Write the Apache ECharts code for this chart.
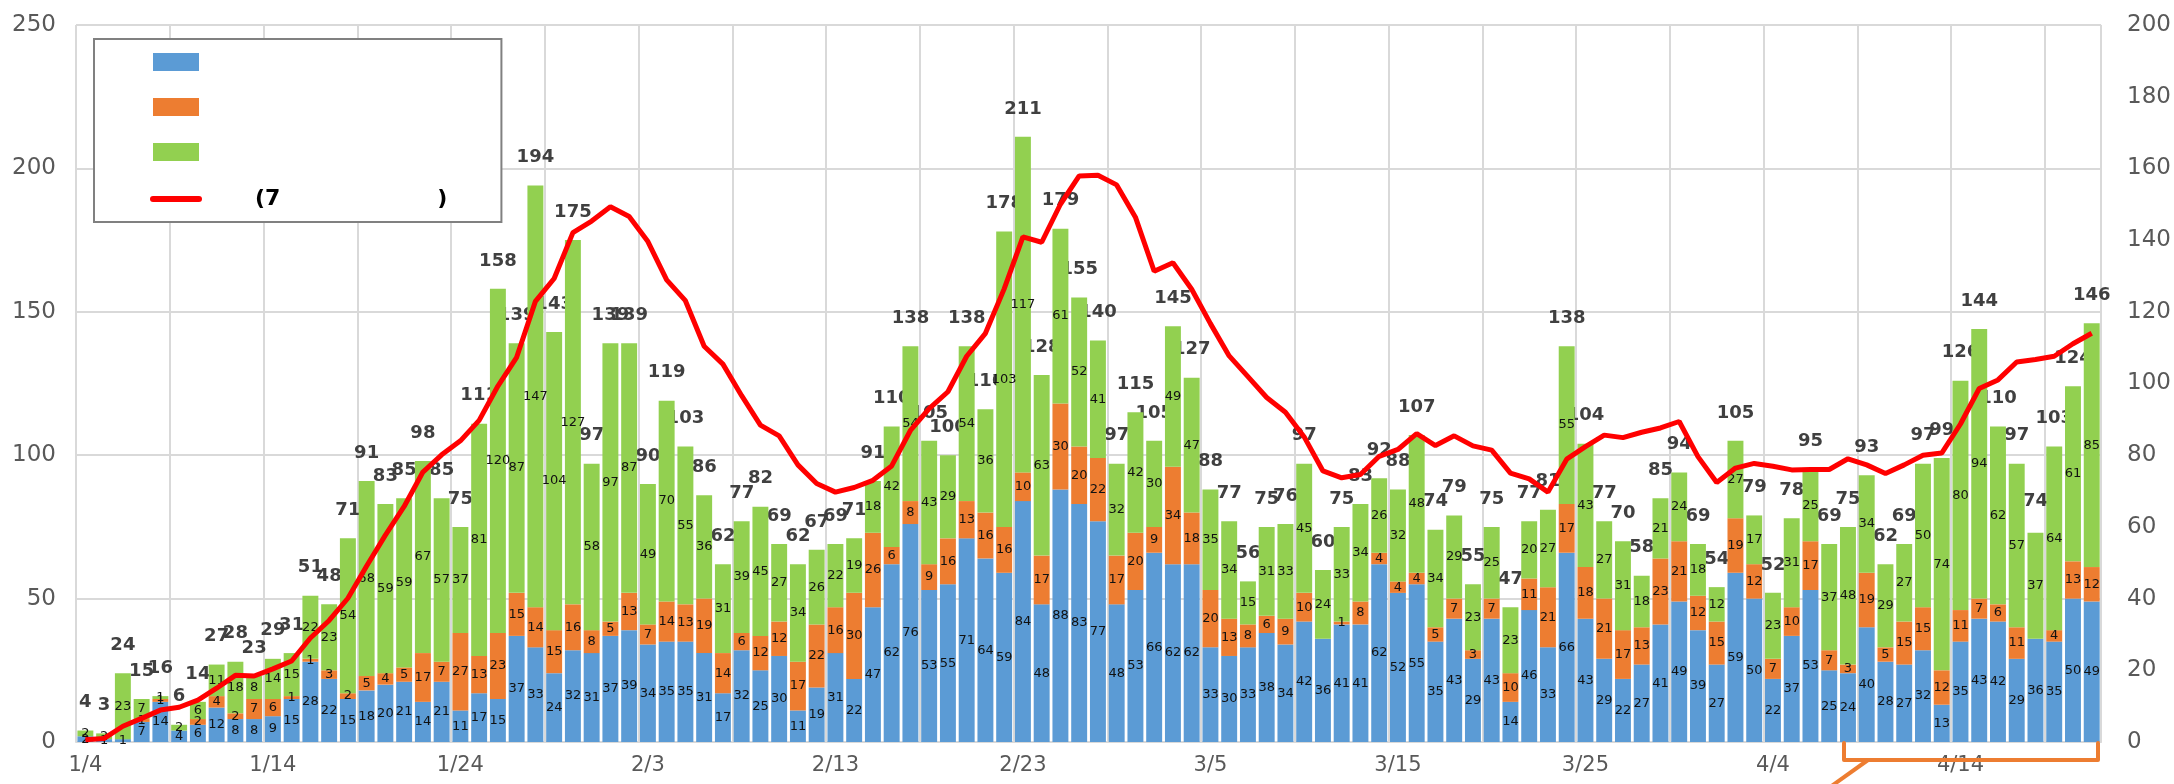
<!DOCTYPE html>
<html>
<head>
<meta charset="utf-8">
<script src="https://cdn.jsdelivr.net/npm/echarts@6/dist/echarts.min.js"></script>
<style>
  html, body { margin: 0; padding: 0; background: #fff; }
  #chart { width: 2174px; height: 784px; }
</style>
</head>
<body>
<div id="chart"></div>
<script>
// days 1/4 .. 4/21
const dates = [
  '1/4','1/5','1/6','1/7','1/8','1/9','1/10','1/11','1/12','1/13',
  '1/14','1/15','1/16','1/17','1/18','1/19','1/20','1/21','1/22','1/23',
  '1/24','1/25','1/26','1/27','1/28','1/29','1/30','1/31','2/1','2/2',
  '2/3','2/4','2/5','2/6','2/7','2/8','2/9','2/10','2/11','2/12',
  '2/13','2/14','2/15','2/16','2/17','2/18','2/19','2/20','2/21','2/22',
  '2/23','2/24','2/25','2/26','2/27','2/28','3/1','3/2','3/3','3/4',
  '3/5','3/6','3/7','3/8','3/9','3/10','3/11','3/12','3/13','3/14',
  '3/15','3/16','3/17','3/18','3/19','3/20','3/21','3/22','3/23','3/24',
  '3/25','3/26','3/27','3/28','3/29','3/30','3/31','4/1','4/2','4/3',
  '4/4','4/5','4/6','4/7','4/8','4/9','4/10','4/11','4/12','4/13',
  '4/14','4/15','4/16','4/17','4/18','4/19','4/20','4/21'
];

const blue = [
  2, 1, 1, 7, 14, 4, 6, 12, 8, 8,
  9, 15, 28, 22, 15, 18, 20, 21, 14, 21,
  11, 17, 15, 37, 33, 24, 32, 31, 37, 39,
  34, 35, 35, 31, 17, 32, 25, 30, 11, 19,
  31, 22, 47, 62, 76, 53, 55, 71, 64, 59,
  84, 48, 88, 83, 77, 48, 53, 66, 62, 62,
  33, 30, 33, 38, 34, 42, 36, 41, 41, 62,
  52, 55, 35, 43, 29, 43, 14, 46, 33, 66,
  43, 29, 22, 27, 41, 49, 39, 27, 59, 50,
  22, 37, 53, 25, 24, 40, 28, 27, 32, 13,
  35, 43, 42, 29, 36, 35, 50, 49
];

const orange = [
  0, 0, 0, 1, 1, 0, 2, 4, 2, 7,
  6, 1, 1, 3, 2, 5, 4, 5, 17, 7,
  27, 13, 23, 15, 14, 15, 16, 8, 5, 13,
  7, 14, 13, 19, 14, 6, 12, 12, 17, 22,
  16, 30, 26, 6, 8, 9, 16, 13, 16, 16,
  10, 17, 30, 20, 22, 17, 20, 9, 34, 18,
  20, 13, 8, 6, 9, 10, 0, 1, 8, 4,
  4, 4, 5, 7, 3, 7, 10, 11, 21, 17,
  18, 21, 17, 13, 23, 21, 12, 15, 19, 12,
  7, 10, 17, 7, 3, 19, 5, 15, 15, 12,
  11, 7, 6, 11, 0, 4, 13, 12
];

const green = [
  2, 2, 23, 7, 1, 2, 6, 11, 18, 8,
  14, 15, 22, 23, 54, 68, 59, 59, 67, 57,
  37, 81, 120, 87, 147, 104, 127, 58, 97, 87,
  49, 70, 55, 36, 31, 39, 45, 27, 34, 26,
  22, 19, 18, 42, 54, 43, 29, 54, 36, 103,
  117, 63, 61, 52, 41, 32, 42, 30, 49, 47,
  35, 34, 15, 31, 33, 45, 24, 33, 34, 26,
  32, 48, 34, 29, 23, 25, 23, 20, 27, 55,
  43, 27, 31, 18, 21, 24, 18, 12, 27, 17,
  23, 31, 25, 37, 48, 34, 29, 27, 50, 74,
  80, 94, 62, 57, 37, 64, 61, 85
];

// total labels as printed above the bars
const totals = [
  4, 3, 24, 15, 16, 6, 14, 27, 28, 23,
  29, 31, 51, 48, 71, 91, 83, 85, 98, 85,
  75, 111, 158, 139, 194, 143, 175, 97, 139, 139,
  90, 119, 103, 86, 62, 77, 82, 69, 62, 67,
  69, 71, 91, 110, 138, 105, 100, 138, 116, 178,
  211, 128, 179, 155, 140, 97, 115, 105, 145, 127,
  88, 77, 56, 75, 76, 97, 60, 75, 83, 92,
  88, 107, 74, 79, 55, 75, 47, 77, 81, 138,
  104, 77, 70, 58, 85, 94, 69, 54, 105, 79,
  52, 78, 95, 69, 75, 93, 62, 69, 97, 99,
  126, 144, 110, 97, 74, 103, 124, 146
];

// red line, right axis
const avg7 = [
  0.6, 1.0, 4.4, 6.6, 8.9, 9.7, 11.7, 15.0, 18.6, 18.4,
  20.4, 22.6, 29.0, 33.9, 40.1, 49.1, 57.7, 65.7, 75.3, 80.1,
  84.0, 89.7, 99.3, 107.3, 122.9, 129.3, 142.1, 145.3, 149.3, 146.6,
  139.6, 128.9, 123.1, 110.4, 105.4, 96.6, 88.4, 85.4, 77.3, 72.1,
  69.7, 71.0, 73.0, 77.0, 86.9, 93.0, 97.7, 107.6, 114.0, 126.4,
  140.9, 139.4, 150.0, 157.9, 158.1, 155.4, 146.4, 131.3, 133.7, 126.3,
  116.7, 107.7, 101.9, 96.1, 92.0, 85.1, 75.6, 73.7, 74.6, 79.7,
  81.6, 86.0, 82.7, 85.4, 82.6, 81.4, 75.0, 73.4, 69.7, 78.9,
  82.4, 85.6, 84.9, 86.4, 87.6, 89.4, 79.6, 72.4, 76.4, 77.7,
  76.9, 75.9, 76.0, 76.0, 79.0, 77.3, 74.9, 77.3, 80.0, 80.6,
  88.7, 98.6, 101.0, 106.0, 106.7, 107.6, 111.1, 114.0
];

const leftTicks = { min: 0, max: 250, interval: 50 };
const rightTicks = { min: 0, max: 200, interval: 20 };

const chart = echarts.init(document.getElementById('chart'));

const segLabel = {
  show: true,
  position: 'inside',
  color: '#111',
  fontSize: 13,
  fontFamily: 'DejaVu Sans',
  formatter: p => (p.value ? p.value : '')
};

chart.setOption({
  animation: false,
  backgroundColor: '#fff',
  grid: { left: 76, right: 72, top: 25, bottom: 42 },
  legend: {
    orient: 'vertical',
    left: 94,
    top: 39,
    padding: [14, 54, 12, 56],
    borderColor: '#808080',
    borderWidth: 2,
    backgroundColor: '#fff',
    itemWidth: 46,
    itemHeight: 18,
    itemGap: 27,
    selectedMode: false,
    data: [
      { name: 'blue', icon: 'rect' },
      { name: 'orange', icon: 'rect' },
      { name: 'green', icon: 'rect' },
      { name: 'avg', itemStyle: { opacity: 0 },
        lineStyle: { color: '#ff0000', width: 6, cap: 'round' } }
    ],
    textStyle: {
      fontSize: 22, fontWeight: 'bold', color: '#000', lineHeight: 18,
      fontFamily: 'DejaVu Sans',
      rich: {
        s: { width: 51, lineHeight: 18 },
        t: { fontSize: 22, fontWeight: 'bold', color: '#000', lineHeight: 18, fontFamily: 'DejaVu Sans' },
        g: { width: 157, lineHeight: 18 }
      }
    },
    formatter: name => (name === 'avg' ? '{s| }{t|(7}{g| }{t|)}' : '')
  },
  xAxis: {
    type: 'category',
    data: dates,
    boundaryGap: true,
    axisLine: { lineStyle: { color: '#d9d9d9', width: 2 } },
    axisTick: { show: false },
    axisLabel: { interval: 9, color: '#595959', fontSize: 21, fontFamily: 'DejaVu Sans', margin: 13 },
    splitLine: { show: true, interval: 4, lineStyle: { color: '#d9d9d9', width: 2 } }
  },
  yAxis: [
    {
      type: 'value',
      min: leftTicks.min, max: leftTicks.max, interval: leftTicks.interval,
      axisLine: { show: false },
      axisTick: { show: false },
      axisLabel: { color: '#595959', fontSize: 23, fontFamily: 'DejaVu Sans', margin: 20 },
      splitLine: { lineStyle: { color: '#d9d9d9', width: 2 } }
    },
    {
      type: 'value',
      min: rightTicks.min, max: rightTicks.max, interval: rightTicks.interval,
      axisLine: { show: false },
      axisTick: { show: false },
      axisLabel: { color: '#595959', fontSize: 23, fontFamily: 'DejaVu Sans', margin: 26 },
      splitLine: { show: false }
    }
  ],
  series: [
    { name: 'blue', type: 'bar', stack: 'day', barWidth: '85%', data: blue,
      itemStyle: { color: '#5b9bd5' }, label: segLabel },
    { name: 'orange', type: 'bar', stack: 'day', barWidth: '85%', data: orange,
      itemStyle: { color: '#ed7d31' }, label: segLabel },
    { name: 'green', type: 'bar', stack: 'day', barWidth: '85%', data: green,
      itemStyle: { color: '#92d050' }, label: segLabel },
    { name: 'total', type: 'bar', barWidth: '85%', barGap: '-100%', data: totals,
      silent: true, z: 1,
      itemStyle: { color: 'rgba(0,0,0,0)' },
      label: { show: true, position: 'top', distance: 19, color: '#404040',
        fontSize: 18, fontWeight: 'bold', fontFamily: 'DejaVu Sans' } },
    { name: 'avg', type: 'line', yAxisIndex: 1, data: avg7, symbol: 'none', z: 3,
      lineStyle: { color: '#ff0000', width: 5 }, itemStyle: { color: '#ff0000' } }
  ],
  graphic: [
    { type: 'polyline', silent: true, z: 10,
      shape: { points: [[1844, 743], [1844, 760], [2098, 760], [2098, 743]] },
      style: { stroke: '#ed7d31', lineWidth: 4, fill: null, lineJoin: 'round', lineCap: 'round' } },
    { type: 'line', silent: true, z: 10,
      shape: { x1: 1868, y1: 760, x2: 1826, y2: 790 },
      style: { stroke: '#ed7d31', lineWidth: 4 } }
  ]
});
</script>
</body>
</html>
